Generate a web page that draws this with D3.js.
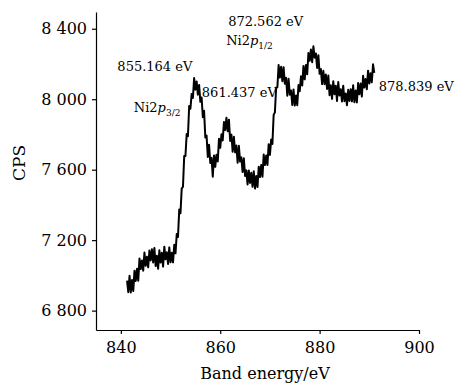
<!DOCTYPE html>
<html>
<head>
    <meta charset="utf-8" />
    <title>Ni2p XPS spectrum</title>
    <script src="https://d3js.org/d3.v7.min.js"></script>
    <style>
        body { margin: 0; background: #fff; }
        svg text { font-family: "DejaVu Serif", "Liberation Serif", serif; fill: #000; }
        .axis path, .axis line { stroke: #000; stroke-width: 1.2; }
    </style>
</head>
<body>
<svg id="chart" width="455" height="384"></svg>
<script>
    // energy grid: 841.25 .. 891.00 eV, step 0.25 eV
    let energyStart = 841.25;
    let energyStep = 0.25;

    // counts (noisy trace)
    let counts = [
        6970, 6905, 6998, 6903, 6974, 6912, 7027, 6968, 7037, 6970, 7096, 7036, 7085, 7027, 7130, 7054, 7106, 7046, 7141, 7085,
        7148, 7073, 7156, 7053, 7112, 7038, 7142, 7073, 7129, 7050, 7163, 7091, 7131, 7065, 7159, 7074, 7129, 7074, 7174, 7125,
        7235, 7218, 7374, 7353, 7494, 7502, 7677, 7678, 7802, 7790, 7961, 7946, 8030, 8007, 8120, 8054, 8101, 8026, 8081, 7985,
        8010, 7898, 7934, 7783, 7794, 7672, 7742, 7638, 7667, 7560, 7681, 7616, 7685, 7647, 7775, 7724, 7801, 7766, 7871, 7825,
        7895, 7818, 7884, 7763, 7799, 7702, 7787, 7698, 7737, 7640, 7736, 7646, 7670, 7587, 7665, 7564, 7596, 7516, 7596, 7525,
        7582, 7503, 7591, 7493, 7564, 7502, 7617, 7558, 7627, 7560, 7686, 7626, 7680, 7627, 7745, 7684, 7771, 7746, 7911, 7925,
        8065, 8068, 8194, 8123, 8184, 8102, 8182, 8088, 8122, 8020, 8116, 8026, 8050, 7967, 8055, 7964, 8021, 7966, 8081, 8045,
        8130, 8078, 8189, 8113, 8194, 8142, 8262, 8218, 8282, 8210, 8300, 8236, 8260, 8177, 8250, 8144, 8171, 8086, 8161, 8085,
        8140, 8058, 8134, 8023, 8079, 8002, 8102, 8028, 8077, 7990, 8098, 8021, 8057, 7987, 8077, 7989, 8033, 7966, 8053, 7990,
        8057, 7988, 8079, 7983, 8049, 7982, 8092, 8028, 8089, 8015, 8133, 8066, 8115, 8057, 8162, 8089, 8148, 8096, 8198, 8150
    ];

    let xTicks = [840, 860, 880, 900];
    let yTicks = [6800, 7200, 7600, 8000, 8400];

    // peak annotations and where they sit (energy, counts)
    let peakLabels = ['855.164 eV', '861.437 eV', '872.562 eV', '878.839 eV'];
    let peakLabelPos = [[839.3, 8160], [856.3, 8010], [861.6, 8415], [891.9, 8045]];
    let orbitalNames = ['Ni2', 'Ni2'];
    let orbitalSubs = ['3/2', '1/2'];
    let orbitalPos = [[842.6, 7925], [861.2, 8310]];

    let svg = d3.select('#chart');

    let x = d3.scaleLinear().domain([835, 900]).range([96, 419]);
    let y = d3.scaleLinear().domain([6690, 8495]).range([330, 12]);

    let data = counts.map(function (c, i) {
        return { e: energyStart + i * energyStep, c: c };
    });

    let spaced = function (d) { return d3.format(',')(d).replace(',', ' '); };

    svg.append('g')
        .attr('class', 'axis')
        .attr('transform', 'translate(0,330)')
        .call(d3.axisBottom(x).tickValues(xTicks).tickSize(4).tickSizeOuter(0).tickPadding(8));

    svg.append('g')
        .attr('class', 'axis')
        .attr('transform', 'translate(96,0)')
        .call(d3.axisLeft(y).tickValues(yTicks).tickFormat(spaced).tickSize(4).tickSizeOuter(0).tickPadding(5));

    svg.selectAll('.axis text')
        .style('font-size', '16px')
        .style('font-family', '"DejaVu Serif", serif')
        .attr('fill', '#000');

    let line = d3.line()
        .x(function (d) { return x(d.e); })
        .y(function (d) { return y(d.c); });

    svg.append('path')
        .datum(data)
        .attr('fill', 'none')
        .attr('stroke', '#000')
        .attr('stroke-width', 2)
        .attr('stroke-linejoin', 'round')
        .attr('d', line);

    // axis titles
    svg.append('text')
        .attr('transform', 'translate(25,163) rotate(-90)')
        .attr('text-anchor', 'middle')
        .style('font-size', '17px')
        .text('CPS');

    svg.append('text')
        .attr('x', 265)
        .attr('y', 379)
        .attr('text-anchor', 'middle')
        .style('font-size', '16px')
        .text('Band energy/eV');

    // peak energy labels
    svg.selectAll('.peak')
        .data(peakLabels)
        .enter()
        .append('text')
        .attr('class', 'peak')
        .attr('x', function (d, i) { return x(peakLabelPos[i][0]); })
        .attr('y', function (d, i) { return y(peakLabelPos[i][1]); })
        .style('font-size', '13px')
        .text(function (d) { return d; });

    // orbital labels with italic p and subscript
    orbitalNames.forEach(function (name, i) {
        let t = svg.append('text')
            .attr('x', x(orbitalPos[i][0]))
            .attr('y', y(orbitalPos[i][1]))
            .style('font-size', '13px');
        t.append('tspan').text(name);
        t.append('tspan').style('font-style', 'italic').text('p');
        t.append('tspan').attr('dy', 4).style('font-size', '9px').text(orbitalSubs[i]);
    });
</script>
</body>
</html>
